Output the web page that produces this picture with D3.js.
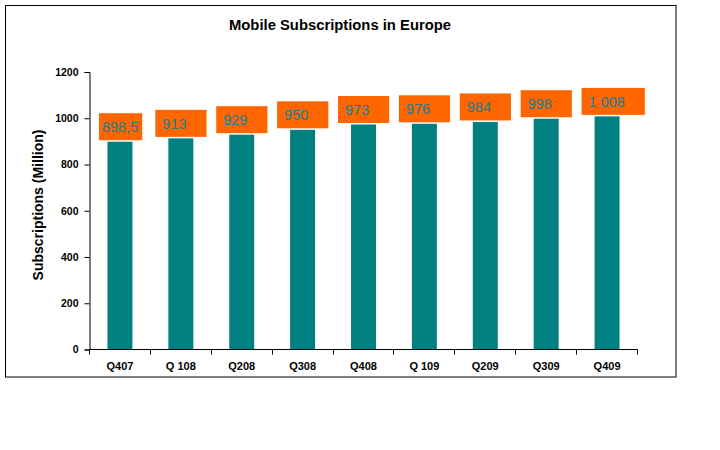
<!DOCTYPE html>
<html><head><meta charset="utf-8">
<script src="https://cdn.jsdelivr.net/npm/d3@7"></script>
<style>body{margin:0;background:#fff;} text{font-family:Arial,"Liberation Sans",sans-serif;}</style>
</head><body>
<svg id="c" width="720" height="450"></svg>
<script>
const categories = ["Q407","Q 108","Q208","Q308","Q408","Q 109","Q209","Q309","Q409"];
const values = [898.5, 913, 929, 950, 973, 976, 984, 998, 1008];
const yTicks = [0, 200, 400, 600, 800, 1000, 1200];
const title = "Mobile Subscriptions in Europe";
const yTitle = "Subscriptions (Million)";

const svg = d3.select("#c");
svg.append("rect").attr("x",5.5).attr("y",5.5).attr("width",670.5).attr("height",371.5)
  .attr("fill","#fff").attr("stroke","#000").attr("stroke-width",1);

const x = d3.scaleBand().domain(categories).range([89.5, 637.5]).paddingInner(0.59).paddingOuter(0.295);
const y = d3.scaleLinear().domain([0,1200]).range([349.5, 72]);

svg.append("text").attr("x",340).attr("y",30).attr("text-anchor","middle")
  .attr("font-weight","bold").attr("font-size",14).attr("textLength",222).attr("lengthAdjust","spacingAndGlyphs").text(title);

// y axis
const ya = svg.append("g").attr("transform","translate(89.5,0)")
  .call(d3.axisLeft(y).tickValues(yTicks).tickSize(5).tickPadding(6).tickFormat(d3.format("d")));
ya.select(".domain").attr("stroke","#000");
ya.selectAll("text").attr("font-size",10.5).attr("font-weight","bold").attr("fill","#000").attr("font-family","Arial,'Liberation Sans',sans-serif");

svg.append("text").attr("transform","translate(43,205) rotate(-90)").attr("text-anchor","middle")
  .attr("font-weight","bold").attr("font-size",14).text(yTitle);

// bars
svg.append("g").selectAll("rect").data(values).join("rect")
  .attr("x",(d,i)=>x(categories[i])).attr("width",x.bandwidth())
  .attr("y",d=>y(d)).attr("height",d=>y(0)-y(d)).attr("fill","#008080");

// x axis
const xa = svg.append("g").attr("transform","translate(0,349.5)");
xa.append("line").attr("x1",89.5).attr("x2",637.5).attr("stroke","#000");
const step = x.step();
const bounds = d3.range(categories.length+1).map(i=>89.5+i*step);
xa.selectAll("line.t").data(bounds).join("line").attr("class","t")
  .attr("x1",d=>Math.round(d-0.5)+0.5).attr("x2",d=>Math.round(d-0.5)+0.5).attr("y1",0).attr("y2",5).attr("stroke","#000");
xa.selectAll("text").data(categories).join("text")
  .attr("x",d=>x(d)+x.bandwidth()/2).attr("y",20).attr("text-anchor","middle")
  .attr("font-size",11).attr("font-weight","bold").text(d=>d);

// labels
const loc = d3.formatLocale({decimal:",", thousands:"\u2009", grouping:[3], currency:["",""]});
const fmt = loc.format(",");
const lg = svg.append("g");
values.forEach((v,i)=>{
  const cx = x(categories[i]) + x.bandwidth()/2;
  const t = fmt(v).replace("\u2009"," ");
  const g = lg.append("g");
  const txt = g.append("text").attr("font-size",14.5).attr("fill","#127f99").text(t);
  const w = txt.node().getComputedTextLength();
  const intLabel = Number.isInteger(v);
  const left = intLabel ? cx - 25.5 : cx - 21;
  const bw = intLabel ? w + 27 : w + 7;
  const bottom = y(v) - 1.5;
  g.insert("rect","text").attr("x",left).attr("y",bottom-27).attr("width",bw).attr("height",27).attr("fill","#ff6600");
  txt.attr("x",intLabel ? left+7 : left+3).attr("y",bottom-8);
});
</script>
</body></html>
